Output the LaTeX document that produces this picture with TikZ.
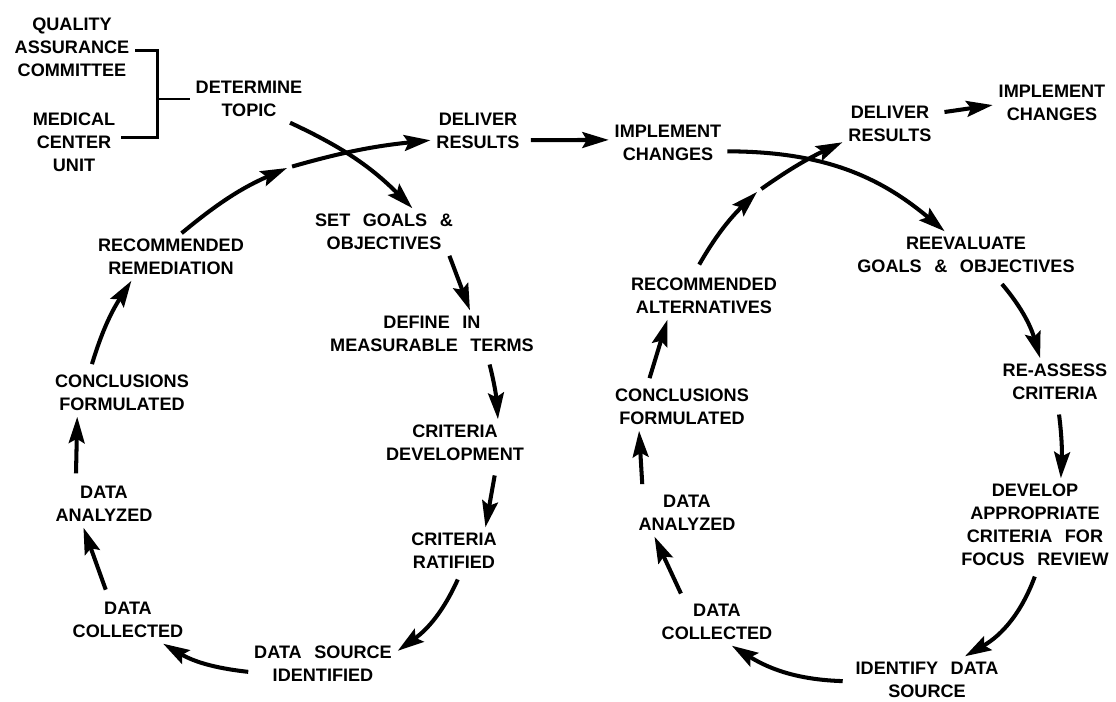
\documentclass[tikz,border=0pt]{standalone}
\usepackage{fontspec}
\setsansfont[WordSpace=2.5]{Liberation Sans}
\usetikzlibrary{arrows.meta,positioning}

\begin{document}
\begin{tikzpicture}[x=0.02cm,y=-0.02cm,
  qalabel/.style={align=center,inner sep=0pt,outer sep=3.4pt,
    font=\sffamily\bfseries\fontsize{10.3}{13}\selectfont},
  qaflow/.style={line width=2.3pt,-{Stealth[length=15pt,width=9pt,inset=2.5pt]}},
  qabrace/.style={line width=1.7pt}
]
  \useasboundingbox (0,0) rectangle (1116,702);

  % Sources of the topic
  \node[qalabel] (qac) at (72,47) {QUALITY\\ASSURANCE\\COMMITTEE};
  \node[qalabel] (muc) at (74,142) {MEDICAL\\CENTER\\UNIT};
  \node[qalabel] (topic) at (249,99) {DETERMINE\\TOPIC};

  % First cycle
  \node[qalabel] (goals) at (384,232) {SET GOALS \&\\OBJECTIVES};
  \node[qalabel] (define) at (432,334) {DEFINE IN\\MEASURABLE TERMS};
  \node[qalabel] (critdev) at (455,443) {CRITERIA\\DEVELOPMENT};
  \node[qalabel] (critrat) at (454,551) {CRITERIA\\RATIFIED};
  \node[qalabel] (dsid) at (323,664) {DATA SOURCE\\IDENTIFIED};
  \node[qalabel] (dcollA) at (128,620) {DATA\\COLLECTED};
  \node[qalabel] (danalA) at (104,504) {DATA\\ANALYZED};
  \node[qalabel] (conclA) at (122,393) {CONCLUSIONS\\FORMULATED};
  \node[qalabel] (recrem) at (171,257) {RECOMMENDED\\REMEDIATION};
  \node[qalabel] (delivA) at (478,131) {DELIVER\\RESULTS};
  \node[qalabel] (implA) at (668,143) {IMPLEMENT\\CHANGES};
  \coordinate (gapA) at (287,168);

  % Second cycle
  \node[qalabel] (reeval) at (966,255) {REEVALUATE\\GOALS \& OBJECTIVES};
  \node[qalabel] (reassess) at (1055,382) {RE-ASSESS\\CRITERIA};
  \node[qalabel] (develop) at (1035,525) {DEVELOP\\APPROPRIATE\\CRITERIA FOR\\FOCUS REVIEW};
  \node[qalabel] (idsrc) at (927,680) {IDENTIFY DATA\\SOURCE};
  \node[qalabel] (dcollB) at (717,622) {DATA\\COLLECTED};
  \node[qalabel] (danalB) at (687,513) {DATA\\ANALYZED};
  \node[qalabel] (conclB) at (682,407) {CONCLUSIONS\\FORMULATED};
  \node[qalabel] (recalt) at (704,296) {RECOMMENDED\\ALTERNATIVES};
  \node[qalabel] (delivB) at (890,124) {DELIVER\\RESULTS};
  \node[qalabel] (implB) at (1052,103) {IMPLEMENT\\CHANGES};
  \coordinate (gapB) at (757,192);

  % Bracket
  \draw[qabrace] (qac.-3) -- ++(22,0) coordinate (brk) |- (muc.6);
  \draw[qabrace] (topic.west) -- (topic.west -| brk);

  % First cycle arrows
  \draw[qaflow] (topic.-30) to[bend left=10] (goals.40);
  \draw[qaflow] (goals.-20) -- (define.32);
  \draw[qaflow,shorten <=4pt] (define.-23) to[bend left=5] (critdev.29);
  \draw[qaflow,shorten <=5pt] (critdev.-30) -- (critrat.37);
  \draw[qaflow,shorten <=3pt] (critrat.-76) to[bend left=15] (dsid.10);
  \draw[qaflow] (dsid.186) to[bend left=12] (dcollA.-34);
  \draw[qaflow,shorten <=4pt] (dcollA.130) -- (danalA.229);
  \draw[qaflow,shorten <=4pt] (danalA.140) -- (conclA.208);
  \draw[qaflow,shorten <=3pt] (conclA.143) to[bend left=8] (recrem.211);
  \draw[qaflow] (recrem.66) to[bend left=8] (gapA);
  \draw[qaflow,shorten <=3pt] (gapA) to[bend left=5] (delivA.191);
  \draw[qaflow,shorten <=3pt] (delivA.-11) -- (implA.177);

  % Second cycle arrows
  \draw[qaflow] (implA.-8) to[bend left=20] (reeval.132);
  \draw[qaflow,shorten <=4pt] (reeval.-37) to[bend left=12] (reassess.122);
  \draw[qaflow,shorten <=5pt] (reassess.-83) to[bend left=5] (develop.61);
  \draw[qaflow,shorten <=3pt] (develop.-88) to[bend left=20] (idsrc.32);
  \draw[qaflow,shorten <=4pt] (idsrc.181) to[bend left=15] (dcollB.-58);
  \draw[qaflow,shorten <=3pt] (dcollB.145) -- (danalB.216);
  \draw[qaflow,shorten <=3pt] (danalB.152) -- (conclB.209);
  \draw[qaflow,shorten <=3pt] (conclB.145) -- (recalt.213);
  \draw[qaflow,shorten <=5pt] (recalt.111) to[bend left=8] (gapB);
  \draw[qaflow,shorten <=3pt] (gapB) to[bend left=5] (delivB.201);
  \draw[qaflow,shorten <=4pt] (delivB.13) -- (implB.182);
\end{tikzpicture}
\end{document}
